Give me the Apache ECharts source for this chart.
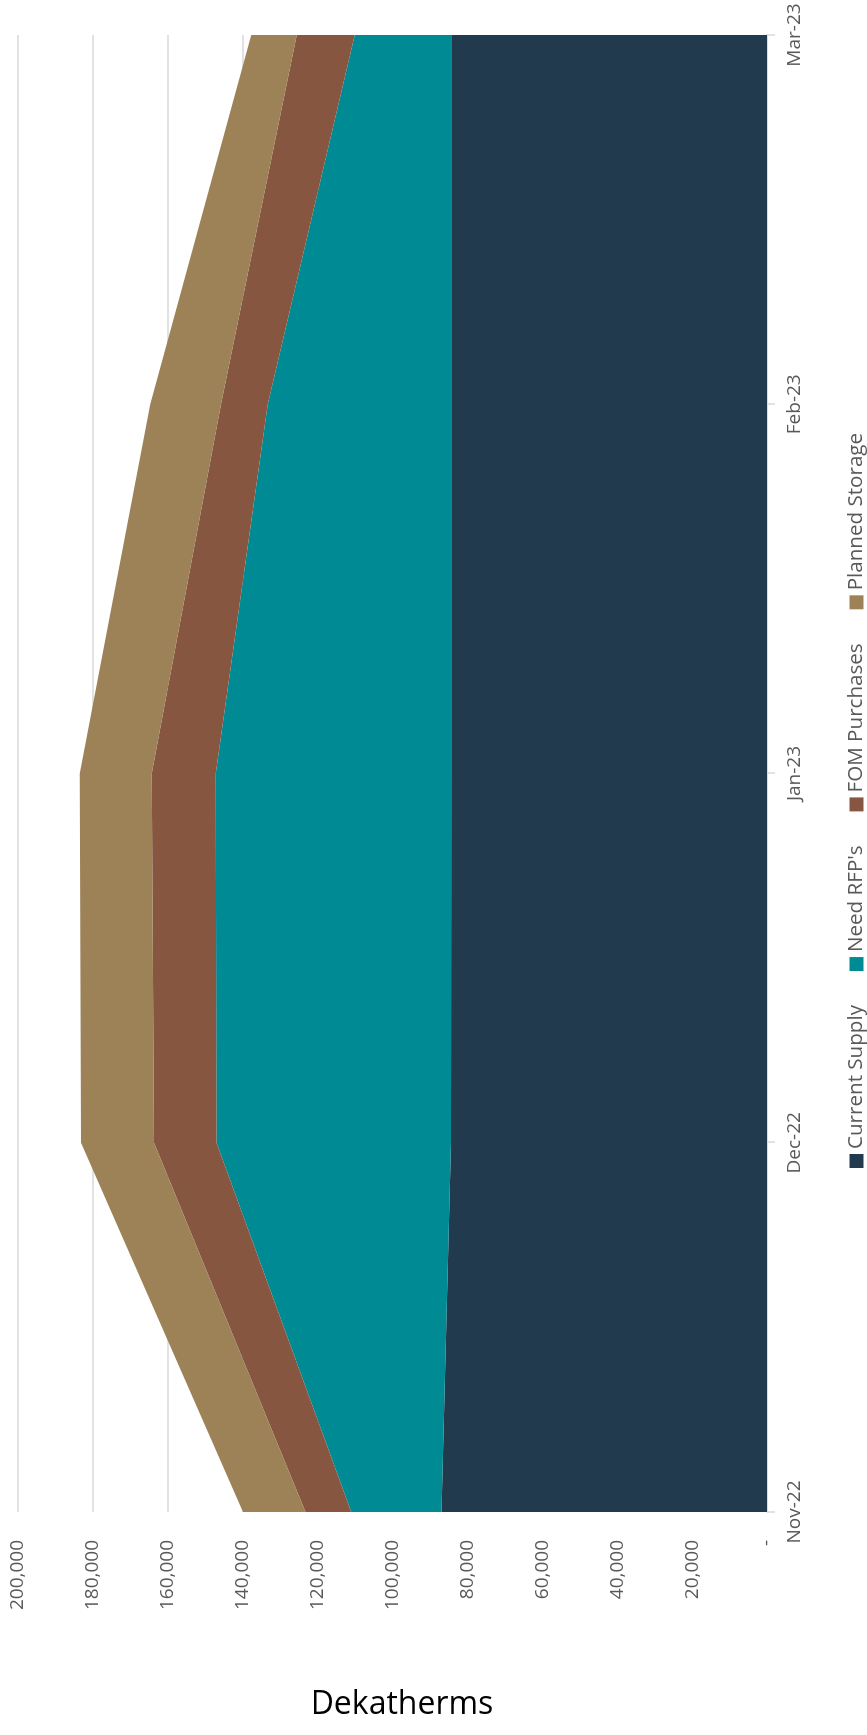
<!DOCTYPE html>
<html>
<head>
<meta charset="utf-8">
<script src="https://cdn.jsdelivr.net/npm/echarts@6/dist/echarts.min.js"></script>
<style>
  html, body { margin: 0; padding: 0; overflow: hidden; background: #fff; width: 867px; height: 1735px; }
  #chart {
    position: absolute; left: 0; top: 0;
    width: 1735px; height: 867px;
    transform-origin: 0 0;
    transform: translateY(1735px) rotate(-90deg);
  }
</style>
</head>
<body>
<div id="chart"></div>
<script>
const categories = ['Nov-22', 'Dec-22', 'Jan-23', 'Feb-23', 'Mar-23'];
const currentSupply = [86900, 84400, 84300, 84300, 84300];
const needRFPs = [24100, 62600, 62900, 49000, 25800];
const fomPurchases = [12250, 16700, 17100, 12500, 15500];
const plannedStorage = [16650, 19500, 19200, 18900, 12100];
const valueTicks = { min: 0, max: 200000, interval: 20000 };
const axisTitle = 'Dekatherms';

const seriesDefs = [
  { name: 'Current Supply', data: currentSupply, color: '#213A4E' },
  { name: "Need RFP's", data: needRFPs, color: '#008B94' },
  { name: 'FOM Purchases', data: fomPurchases, color: '#875641' },
  { name: 'Planned Storage', data: plannedStorage, color: '#9C8256' }
];

const font = "'Open Sans', sans-serif";
const chart = echarts.init(document.getElementById('chart'), null, { renderer: 'canvas' });
chart.setOption({
  animation: false,
  textStyle: { fontFamily: font },
  grid: { left: 223, right: 35, top: 18, bottom: 100 },
  legend: {
    left: 562, top: 841,
    itemWidth: 14, itemHeight: 14, itemGap: 34,
    icon: 'rect',
    textStyle: { color: '#595959', fontSize: 20.6, fontFamily: font },
    data: seriesDefs.map(s => s.name)
  },
  xAxis: {
    type: 'category',
    data: categories,
    boundaryGap: false,
    axisLine: { show: true, lineStyle: { color: '#D9D9D9', width: 1.5 } },
    axisTick: { show: true, length: 8, lineStyle: { color: '#D9D9D9', width: 1.5 } },
    axisLabel: { color: '#595959', fontSize: 19, margin: 18, fontFamily: font },
    splitLine: { show: false }
  },
  yAxis: {
    type: 'value',
    min: valueTicks.min, max: valueTicks.max, interval: valueTicks.interval,
    axisLine: { show: false },
    axisTick: { show: false },
    axisLabel: {
      color: '#595959', fontSize: 19, margin: 28, fontFamily: font,
      formatter: v => v === 0 ? '-' : v.toLocaleString('en-US')
    },
    splitLine: { lineStyle: { color: '#D9D9D9', width: 1.5 } }
  },
  graphic: [{
    type: 'text',
    x: 30, y: 402,
    rotation: -Math.PI / 2,
    style: {
      text: axisTitle,
      fill: '#000',
      font: "32px 'Open Sans', sans-serif",
      textAlign: 'center',
      textVerticalAlign: 'middle'
    }
  }],
  series: seriesDefs.map(s => ({
    name: s.name,
    type: 'line',
    stack: 'total',
    data: s.data,
    symbol: 'none',
    showSymbol: false,
    lineStyle: { width: 0 },
    areaStyle: { color: s.color, opacity: 1 },
    itemStyle: { color: s.color },
    emphasis: { disabled: true }
  }))
});
</script>
</body>
</html>
